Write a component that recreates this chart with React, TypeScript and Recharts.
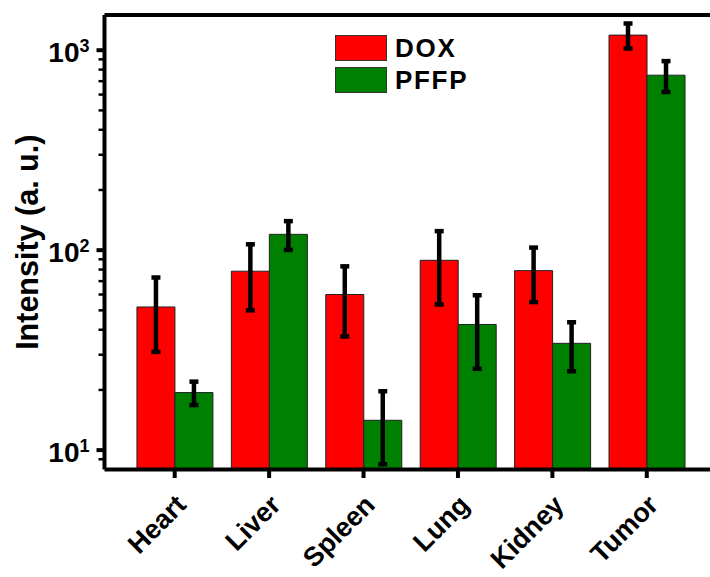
import React from "react";
import {
  BarChart,
  Bar,
  XAxis,
  YAxis,
  ErrorBar,
  Legend,
  ReferenceLine,
} from "recharts";

const organs = ["Heart", "Liver", "Spleen", "Lung", "Kidney", "Tumor"];
const doxValues = [52, 78.5, 60, 89, 79, 1190];
const doxErrors = [21, 28.5, 23, 35.5, 24, 170];
const pffpValues = [19.4, 120, 14.1, 42.5, 34.2, 750];
const pffpErrors = [2.6, 19.7, 5.6, 17, 9.4, 132];

const majorTicks = [10, 100, 1000];
const majorTickExponents = ["1", "2", "3"];
const minorTicks = [9, 20, 30, 40, 50, 60, 70, 80, 90, 200, 300, 400, 500, 600, 700, 800, 900];
const yDomain = [8, 1500];

const data = organs.map((name, i) => ({
  name,
  dox: doxValues[i],
  doxErr: doxErrors[i],
  pffp: pffpValues[i],
  pffpErr: pffpErrors[i],
}));

const FONT = "Arial, 'Liberation Sans', Helvetica, sans-serif";

function YTick(props: any) {
  const { x, y, payload } = props;
  const idx = majorTicks.indexOf(payload.value);
  if (idx < 0) {
    return <line x1={x - 6} y1={y} x2={x} y2={y} stroke="#000" strokeWidth={2.5} />;
  }
  return (
    <g>
      <line x1={x - 8} y1={y} x2={x} y2={y} stroke="#000" strokeWidth={4} />
      <text
        x={x - 15}
        y={y + 12}
        textAnchor="end"
        fontFamily={FONT}
        fontWeight="bold"
        fontSize={28}
        fill="#000"
      >
        10
        <tspan dy={-10} fontSize={18}>
          {majorTickExponents[idx]}
        </tspan>
      </text>
    </g>
  );
}

function XTick(props: any) {
  const { x, y, payload } = props;
  const ax = x + 13;
  const ay = y + 37;
  return (
    <g>
      <line x1={x} y1={y} x2={x} y2={y + 8.5} stroke="#000" strokeWidth={4} />
      <text
        x={ax}
        y={ay}
        textAnchor="end"
        transform={`rotate(-45, ${ax}, ${ay})`}
        fontFamily={FONT}
        fontWeight="bold"
        fontSize={27}
        fill="#000"
      >
        {payload.value}
      </text>
    </g>
  );
}

function YTitle(props: any) {
  const { viewBox } = props;
  const cx = viewBox.x + 27;
  const cy = viewBox.y + viewBox.height / 2;
  return (
    <text
      x={cx}
      y={cy}
      textAnchor="middle"
      dominantBaseline="central"
      transform={`rotate(-90, ${cx}, ${cy})`}
      fontFamily={FONT}
      fontWeight="bold"
      fontSize={30.5}
      fill="#000"
    >
      Intensity (a. u.)
    </text>
  );
}

function LegendBox(props: any) {
  const { payload } = props;
  return (
    <div style={{ fontFamily: FONT }}>
      {(payload || []).map((entry: any) => (
        <div
          key={entry.value}
          style={{ display: "flex", alignItems: "center", height: 26.7, marginBottom: 5 }}
        >
          <div
            style={{
              width: 52,
              height: 26,
              boxSizing: "border-box",
              background: entry.color,
              border: "1px solid #333",
            }}
          />
          <span
            style={{
              marginLeft: 8,
              fontSize: 26,
              fontWeight: "bold",
              letterSpacing: 1.7,
              color: "#000",
              lineHeight: "26px",
            }}
          >
            {entry.value}
          </span>
        </div>
      ))}
    </div>
  );
}

export default function App() {
  return (
    <div style={{ position: "absolute", left: 0, top: 0, background: "#fff" }}>
      <BarChart
        width={710}
        height={577}
        data={data}
        margin={{ top: 15, right: 0, bottom: 0, left: 0 }}
        barCategoryGap="10%"
        barGap={0}
      >
        <XAxis
          dataKey="name"
          height={107.5}
          padding={{ left: 23, right: 16 }}
          axisLine={{ stroke: "#000", strokeWidth: 4 }}
          tickLine={false}
          tickSize={0}
          tickMargin={0}
          interval={0}
          tick={<XTick />}
        />
        <YAxis
          scale="log"
          domain={yDomain}
          allowDataOverflow
          ticks={[...majorTicks, ...minorTicks]}
          interval={0}
          width={104.5}
          axisLine={{ stroke: "#000", strokeWidth: 4 }}
          tickLine={false}
          tickSize={0}
          tickMargin={0}
          tick={<YTick />}
          label={{ content: YTitle }}
        />
        <ReferenceLine y={yDomain[1]} stroke="#000" strokeWidth={4} />
        <Legend
          content={LegendBox}
          layout="horizontal"
          verticalAlign="middle"
          align="center"
          wrapperStyle={{ left: 335, top: 35, width: 200 }}
        />
        <Bar
          dataKey="dox"
          name="DOX"
          fill="#ff0000"
          stroke="#222"
          strokeWidth={1}
          isAnimationActive={false}
        >
          <ErrorBar dataKey="doxErr" width={4.5} stroke="#000" strokeWidth={4.5} />
        </Bar>
        <Bar
          dataKey="pffp"
          name="PFFP"
          fill="#008000"
          stroke="#222"
          strokeWidth={1}
          isAnimationActive={false}
        >
          <ErrorBar dataKey="pffpErr" width={4.5} stroke="#000" strokeWidth={4.5} />
        </Bar>
      </BarChart>
    </div>
  );
}
